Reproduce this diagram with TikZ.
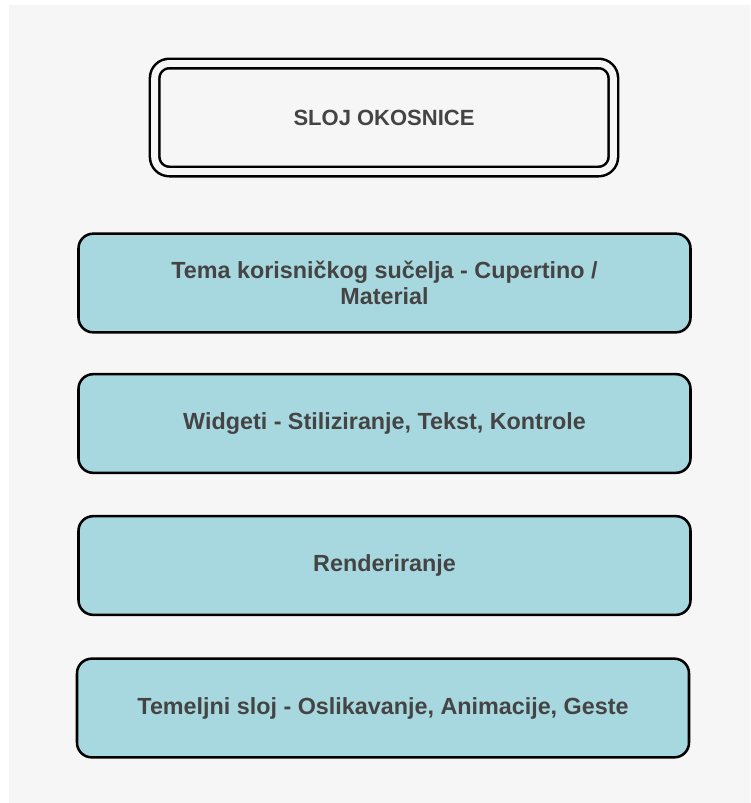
\documentclass[tikz,border=0pt]{standalone}
\usepackage{fontspec}
\setmainfont{Liberation Sans}
\definecolor{pagegray}{HTML}{F6F6F6}
\definecolor{layerfill}{HTML}{A8D8DF}
\definecolor{labelgray}{HTML}{444444}

\begin{document}
\begin{tikzpicture}[
    x=0.75pt, y=-0.75pt,
    core/.style={
        draw,
        rounded corners=11pt,
        line width=1.9pt,
        double=pagegray,
        double distance=5.2pt,
        minimum width=344pt,
        minimum height=81pt,
        font=\bfseries\fontsize{16.5}{19}\selectfont,
        text=labelgray
    },
    layer/.style={
        draw,
        rounded corners=11pt,
        line width=1.9pt,
        fill=layerfill,
        minimum width=459pt,
        minimum height=74pt,
        align=center,
        font=\bfseries\fontsize{17.5}{19.5}\selectfont,
        text=labelgray
    }
]

    % Page
    \fill[white] (0,0) rectangle (750,803);
    \fill[pagegray] (9,5) rectangle (750,803);
    \useasboundingbox (0,0) rectangle (750,803);

    % Core box
    \node[core] (core) at (384,117.5) {SLOJ OKOSNICE};

    % Layers
    \node[layer] (theme) at (384.5,283) {Tema korisničkog sučelja - Cupertino /\\Material};
    \node[layer] (widgets) at (384.5,423.5) {Widgeti - Stiliziranje, Tekst, Kontrole};
    \node[layer] (render) at (384.5,565.5) {Renderiranje};
    \node[layer] (base) at (383,708) {Temeljni sloj - Oslikavanje, Animacije, Geste};

\end{tikzpicture}
\end{document}
